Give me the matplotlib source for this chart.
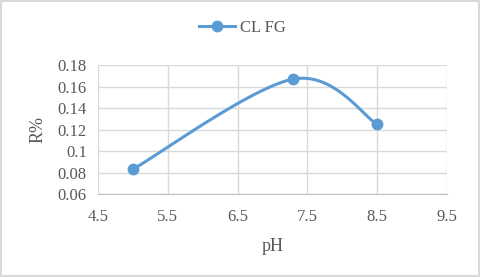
import matplotlib
matplotlib.use('Agg')
import numpy as np
import matplotlib.pyplot as plt
from matplotlib.patches import Rectangle
from matplotlib.lines import Line2D

ph = [5.0, 7.3, 8.5]
r_pct = [0.083, 0.167, 0.125]
series_name = "CL FG"

blue = '#5B9BD5'
grey_txt = '#595959'
grid_c = '#d9d9d9'

plt.rcParams['font.family'] = ['Liberation Serif', 'DejaVu Serif']


def smooth(xs, ys, n=60):
    # Excel-like smoothed line: cubic bezier, catmull-rom style control points
    p = np.column_stack([xs, ys]).astype(float)
    pts = np.vstack([p[0], p, p[-1]])
    out = []
    for i in range(1, len(pts) - 2):
        p0, p1, p2, p3 = pts[i - 1], pts[i], pts[i + 1], pts[i + 2]
        c1 = p1 + (p2 - p0) / 6.0
        c2 = p2 - (p3 - p1) / 6.0
        t = np.linspace(0, 1, n)[:, None]
        seg = ((1 - t) ** 3) * p1 + 3 * ((1 - t) ** 2) * t * c1 + 3 * (1 - t) * t ** 2 * c2 + t ** 3 * p2
        out.append(seg)
    out = np.vstack(out)
    return out[:, 0], out[:, 1]


fig = plt.figure(figsize=(4.8, 2.77), dpi=100)
ax = fig.add_axes([0.204, 0.2996, 0.727, 0.4654])

sx, sy = smooth(ph, r_pct)
ax.plot(sx, sy, '-', color=blue, lw=2.2, solid_capstyle='round')
ax.plot(ph, r_pct, 'o', color=blue, ms=7.5)

ax.set_xlim(4.5, 9.5)
ax.set_ylim(0.06, 0.18)
ax.set_xticks(np.arange(4.5, 9.6, 1.0))
ax.set_xticklabels(['4.5', '5.5', '6.5', '7.5', '8.5', '9.5'])
ax.set_yticks([0.06, 0.08, 0.10, 0.12, 0.14, 0.16, 0.18])
ax.set_yticklabels(['0.06', '0.08', '0.1', '0.12', '0.14', '0.16', '0.18'])
ax.grid(True, color=grid_c, lw=1)
ax.set_axisbelow(True)
for s in ['top', 'right', 'left']:
    ax.spines[s].set_visible(False)
ax.spines['bottom'].set_color('#bfbfbf')
ax.tick_params(length=0, labelsize=12, colors=grey_txt)
ax.tick_params(axis='x', pad=11)
ax.tick_params(axis='y', pad=8)
ax.set_xlabel('pH', fontsize=13, color=grey_txt, labelpad=9)
ax.set_ylabel('R%', fontsize=13, color=grey_txt, labelpad=8)

handle = Line2D([], [], color=blue, lw=2.2, marker='o', ms=7.5)
fig.legend([handle], [series_name], loc='center', bbox_to_anchor=(0.505, 0.9),
           frameon=False, fontsize=12, labelcolor=grey_txt, handlelength=2.2,
           handletextpad=0.3)

fig.patches.append(Rectangle((0.002, 0.002), 0.996, 0.994, transform=fig.transFigure,
                             fill=False, edgecolor=grid_c, lw=1.5))

plt.savefig('out.png', dpi=100)
